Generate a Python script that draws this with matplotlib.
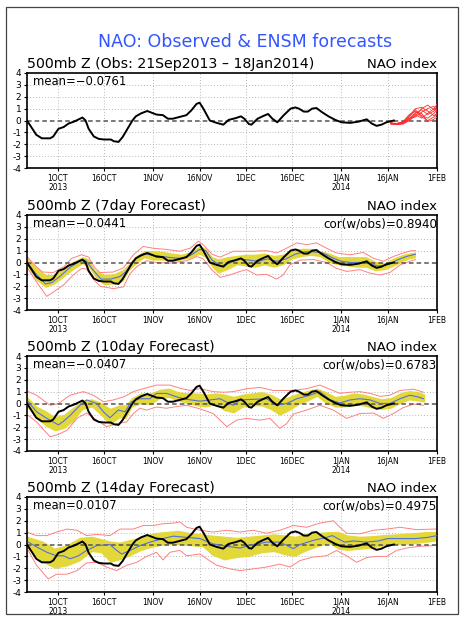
import numpy as np
import pandas as pd
import matplotlib
matplotlib.use("Agg")
import matplotlib.pyplot as plt
from matplotlib.patches import Rectangle

plt.rcParams["axes.unicode_minus"] = False

START = pd.Timestamp("2013-09-21")
END = pd.Timestamp("2014-02-01")

TICK_DATES = ["2013-10-01", "2013-10-16", "2013-11-01", "2013-11-16", "2013-12-01",
              "2013-12-16", "2014-01-01", "2014-01-16", "2014-02-01"]
TICK_LABELS = ["1OCT\n2013", "16OCT", "1NOV", "16NOV", "1DEC", "16DEC", "1JAN\n2014", "16JAN", "1FEB"]

# observed NAO index (days after 21 Sep 2013)
OBS_DAY = [0, 1.5, 3, 4.8, 7.5, 8.5, 10.2, 11.9, 13.5, 15.2, 16.8, 18, 19, 20, 21.7, 23.3, 25, 27.2, 28.2,
           29.7, 31, 32.6, 34.2, 35.3, 37, 39, 40, 42, 44.1, 45.7, 47.3, 49.5, 51.7, 53.3, 55, 56, 57.2,
           59.3, 61.5, 63.7, 65.4, 67.7, 69.4, 70.5, 72, 72.8, 74.8, 76.4, 78.2, 79.6, 81.2, 83.3, 85.5,
           87.1, 88.2, 89.8, 91.1, 92.5, 93.9, 95.7, 97.8, 100, 102, 104.8, 107.5, 110.2, 111.8, 113.4,
           115, 116.6, 119]
OBS = [0.0, -0.6, -1.2, -1.5, -1.5, -1.35, -0.7, -0.55, -0.25, -0.1, 0.1, 0.25, 0.0, -0.7, -1.35,
       -1.55, -1.6, -1.6, -1.75, -1.8, -1.4, -0.7, 0.0, 0.35, 0.6, 0.8, 0.7, 0.5, 0.45, 0.15, 0.15, 0.3,
       0.45, 0.85, 1.4, 1.5, 1.0, 0.0, -0.2, -0.35, 0.05, 0.2, 0.35, 0.15, -0.3, -0.35, 0.15, 0.35, 0.55,
       0.15, -0.15, 0.45, 1.0, 1.1, 1.0, 0.75, 0.75, 1.0, 1.05, 0.7, 0.35, 0.05, -0.15, -0.2, -0.1, 0.1,
       -0.25, -0.45, -0.35, -0.15, 0.0]

# ensemble members (top panel, red)
ENS_DAY = [118, 120, 122, 124, 126, 128, 130, 132, 133]
ENS_A = [-0.2, -0.3, -0.2, 0.1, 0.6, 0.9, 0.5, 0.8, 1.1]
ENS_B = [-0.25, -0.35, -0.15, 0.3, 0.9, 0.4, 0.2, 0.6, 0.9]
ENS_C = [-0.2, -0.3, -0.25, 0.0, 0.4, 1.0, 1.3, 0.9, 1.4]
ENS_D = [-0.3, -0.25, -0.1, 0.5, 0.8, 0.3, 0.0, 0.3, 0.5]
ENS_E = [-0.2, -0.35, -0.2, 0.2, 0.3, 0.7, 1.0, 1.2, 0.7]
ENS_F = [-0.25, -0.3, -0.2, 0.15, 0.7, 0.6, -0.1, 0.1, 0.3]
ENS_G = [-0.3, -0.35, -0.3, 0.0, 0.5, 0.2, 0.6, 1.0, 0.9]
ENS_H = [-0.2, -0.25, -0.1, 0.4, 1.0, 1.1, 0.8, 0.4, 0.6]

# 7-day forecast
F7_MEAN_DAY = [0, 3, 6, 8, 11, 14, 17, 19, 21, 24, 27, 30, 32, 34, 36, 38, 41, 44, 47, 50, 53, 56, 58, 60,
               63, 66, 69, 72, 75, 78, 81, 84, 87, 90, 93, 96, 99, 102, 105, 108, 111, 114, 117, 120, 123, 126]
F7_MEAN = [0.0, -1.0, -1.8, -1.7, -1.1, -0.4, 0.1, 0.2, -0.5, -1.4, -1.4, -1.2, -0.8, -0.1, 0.5, 0.75, 0.6,
           0.5, 0.4, 0.35, 0.6, 1.1, 1.0, 0.2, -0.3, 0.0, 0.3, 0.2, 0.1, 0.3, 0.1, 0.3, 0.7, 0.9, 0.9, 0.8,
           0.4, 0.1, 0.0, 0.0, -0.1, -0.3, -0.2, 0.2, 0.5, 0.7]
F7_BAND_DAY = [0, 3, 6, 9, 12, 15, 18, 20, 22, 25, 28, 31, 33, 35, 38, 41, 44, 47, 50, 53, 56, 58, 60, 62,
               65, 68, 71, 74, 77, 80, 83, 86, 89, 92, 95, 98, 101, 104, 107, 110, 113, 116, 119, 122, 124, 126]
F7_HI = [0.4, -0.4, -1.0, -1.0, -0.4, 0.1, 0.5, 0.3, -0.6, -1.0, -0.95, -0.6, -0.1, 0.5, 1.0, 1.0, 0.95,
         0.8, 0.7, 0.9, 1.4, 1.2, 0.5, 0.3, 0.5, 0.6, 0.7, 0.7, 0.8, 0.6, 0.7, 1.0, 1.2, 1.2, 1.0, 0.8, 0.5,
         0.5, 0.5, 0.5, 0.1, 0.0, 0.4, 0.7, 0.8, 0.9]
F7_LO = [-0.3, -1.5, -2.1, -1.8, -1.2, -0.6, -0.1, -0.4, -1.2, -1.9, -1.8, -1.6, -0.7, -0.2, 0.4, 0.2, 0.2,
         0.1, 0.2, 0.4, 0.7, 0.4, -0.4, -0.9, -0.6, -0.2, -0.3, -0.4, -0.2, -0.4, -0.2, 0.3, 0.5, 0.6, 0.5,
         0.0, -0.2, -0.3, -0.4, -0.4, -0.7, -0.6, -0.3, 0.1, 0.3, 0.4]
F7_MAX_DAY = [0, 3, 5, 8.5, 12, 14.5, 17.7, 20, 22, 23.7, 28, 31.3, 34.5, 37.7, 41, 45.3, 49.6, 52.9, 55.6,
              57.2, 60, 62.6, 67, 73.4, 77.7, 81, 84.2, 87.5, 90.7, 93.9, 97.2, 100.4, 104.8, 109.1, 112.4,
              115.6, 118.8, 122, 124.8, 126]
F7_MAX = [0.5, -0.35, -0.8, -0.85, -0.35, 0.35, 0.65, 0.45, -0.45, -0.85, -0.8, -0.45, 0.65, 1.35, 1.2,
          1.1, 0.95, 1.2, 1.8, 1.5, 0.7, 0.45, 0.95, 0.95, 1.0, 0.8, 1.2, 1.65, 1.5, 1.65, 1.2, 0.8, 0.65,
          0.85, 0.35, 0.1, 0.5, 0.8, 1.0, 1.0]
F7_MIN_DAY = [0, 3, 6.4, 8.5, 11.8, 15, 17.7, 19.3, 21.5, 23.7, 28, 31.3, 33.4, 35.6, 38.8, 42, 46.4, 51.8,
              55, 57.2, 59.9, 62.6, 65.8, 69.1, 71.2, 74.5, 77.7, 81, 83.1, 85.3, 88.6, 92.9, 97.2, 100.4,
              103.7, 108, 111.3, 114.5, 117.7, 121, 124.2, 126]
F7_MIN = [-0.4, -1.6, -2.85, -2.5, -1.9, -1.05, -0.5, -0.55, -1.4, -2.0, -2.2, -2.05, -0.95, -0.35, 0.15,
          0.0, -0.05, 0.15, 0.5, 0.3, -0.6, -1.25, -1.05, -0.75, -0.6, -1.05, -1.0, -1.4, -1.05, -0.2, 0.2,
          0.25, 0.0, -0.5, -0.75, -0.6, -0.9, -1.05, -0.85, -0.2, 0.1, 0.25]

# 10-day forecast
F10_MEAN_DAY = [0.4, 3.1, 6.4, 10.2, 11.8, 14, 17.2, 19.3, 22.6, 24.8, 26.9, 29.6, 31.8, 33.9, 36.6, 39.9,
                42, 45.3, 48.6, 51.8, 56.1, 59.4, 62.6, 66.9, 69.1, 73.4, 77.7, 81, 84.2, 87.5, 91.8, 95,
                98.3, 101.5, 104.8, 108, 111.3, 114.5, 117.7, 121, 124.2, 126.9, 128.6]
F10_MEAN = [0.15, -0.7, -1.25, -1.8, -1.5, -1.0, -0.15, 0.3, 0.0, -0.7, -1.2, -0.55, -0.7, 0.15, 0.4, 0.4,
            0.85, 0.85, 0.55, 0.35, 0.2, 0.3, 0.4, -0.15, 0.3, 0.35, 0.4, -0.15, 0.0, 0.4, 0.7, 1.0, 0.3,
            0.05, 0.3, 0.4, 0.3, 0.0, 0.0, 0.4, 0.7, 0.55, 0.4]
F10_BAND_DAY = [0, 3, 6, 9, 12, 15, 18, 21, 24, 27, 30, 32, 34, 37, 40, 43, 46, 49, 52, 55, 58, 61, 64, 67,
                70, 73, 76, 79, 82, 85, 88, 91, 94, 97, 100, 103, 106, 109, 112, 115, 118, 121, 124, 127, 129]
F10_HI = [0.6, -0.2, -0.6, -1.1, -0.9, -0.3, 0.3, 0.4, 0.1, -0.4, -0.1, -0.1, 0.5, 0.9, 0.9, 1.2, 1.3, 1.0,
          0.9, 0.9, 0.8, 0.9, 0.8, 0.6, 0.8, 0.9, 1.0, 0.8, 0.4, 0.6, 0.9, 1.1, 1.3, 1.0, 0.6, 0.7, 0.9,
          0.8, 0.6, 0.4, 0.5, 0.9, 1.1, 1.0, 0.8]
F10_LO = [-0.3, -1.2, -1.9, -2.3, -2.1, -1.5, -0.5, -0.3, -1.0, -1.8, -1.2, -1.3, -0.3, 0.0, -0.1, 0.4, 0.5,
          0.2, 0.0, -0.2, -0.3, -0.1, -0.6, -0.8, -0.3, -0.2, -0.2, -0.5, -1.0, -0.6, -0.1, 0.2, 0.6, 0.0,
          -0.3, -0.3, -0.1, -0.2, -0.4, -0.5, -0.4, 0.0, 0.3, 0.2, 0.1]
F10_MAX_DAY = [0.4, 3.1, 7.5, 10.2, 14, 18.3, 21.5, 24.8, 28, 31.3, 34.5, 37.7, 42, 46.4, 50.1, 52.9, 56.1,
               60.4, 63.7, 66.9, 71.2, 75.6, 79.9, 83.1, 86.4, 90.7, 95, 98.3, 101.5, 104.8, 108, 111.3,
               114.5, 117.7, 121, 125.4, 128.6]
F10_MAX = [1.0, 0.7, -0.15, 0.0, 0.7, 1.0, 0.7, 0.15, 0.3, 0.55, 1.0, 1.25, 1.55, 1.55, 1.25, 1.1, 1.25, 1.0,
           0.95, 1.0, 1.25, 1.35, 1.1, 1.1, 1.1, 1.25, 1.55, 1.2, 0.85, 0.95, 1.0, 0.85, 0.6, 0.7, 1.1,
           1.2, 0.95]
F10_MIN_DAY = [0.4, 3.1, 7.5, 10.2, 13, 16.2, 19.3, 22.6, 25.8, 29.1, 32.3, 34.5, 36.6, 38.8, 42, 45.3,
               47.5, 51.8, 56.1, 60.4, 64.8, 68, 71.2, 75.6, 78.8, 82, 84.2, 86.4, 90.7, 95, 99.4, 103.7,
               108, 112.4, 115.6, 118.8, 122, 125.4, 128.6]
F10_MIN = [-1.0, -1.55, -2.8, -2.6, -2.25, -1.25, -0.8, -1.4, -1.95, -1.7, -1.55, -0.85, -0.4, -0.55, -0.3,
           -0.4, -0.3, -0.15, -0.45, -0.85, -1.95, -1.4, -1.25, -1.4, -1.25, -2.1, -1.7, -0.9, -0.55, -0.15,
           -0.55, -1.25, -0.85, -0.8, -1.25, -0.85, -0.35, -0.05, -0.15]

# 14-day forecast
F14_MEAN_DAY = [0.4, 3.1, 6.4, 9.6, 11.8, 14, 16.7, 19.3, 22.6, 26.9, 29.1, 30.7, 33.4, 36.6, 39.9, 44.1,
                47.4, 51.8, 56.1, 60.4, 64.8, 69.1, 73.4, 77.7, 82, 86.4, 88.6, 92.9, 97.2, 99, 103, 106,
                110, 114, 117, 121, 126, 130, 133]
F14_MEAN = [0.2, -0.2, -0.65, -0.95, -0.95, -1.2, -0.95, -0.5, -0.1, 0.0, -0.5, -0.8, -0.5, -0.1, 0.2, 0.5,
            0.7, 0.6, 0.5, 0.05, -0.15, -0.3, 0.0, 0.2, 0.2, -0.35, 0.0, 0.35, 0.6, 0.75, 0.2, 0.3, 0.2,
            0.3, 0.5, 0.5, 0.5, 0.6, 0.75]
F14_BAND_DAY = [0, 5, 9, 13, 17, 21, 24, 27, 30, 33, 37, 41, 45, 49, 53, 57, 60, 64, 68, 72, 76, 80, 84, 87,
                90, 94, 98, 101, 104, 108, 112, 116, 120, 125, 130, 133]
F14_HI = [0.7, 0.3, -0.3, 0.0, 0.6, 0.7, 0.5, 0.3, 0.2, 0.4, 0.6, 1.0, 1.1, 1.2, 1.0, 0.9, 0.8, 0.7, 0.6,
          0.7, 0.8, 0.9, 0.8, 0.7, 0.9, 1.0, 1.1, 1.1, 0.8, 0.7, 0.75, 0.85, 0.9, 1.0, 1.1, 1.1]
F14_LO = [-0.3, -1.5, -2.0, -1.8, -1.4, -0.6, -0.7, -1.5, -1.3, -1.0, -0.5, -0.2, 0.0, 0.0, -0.1, -0.2, -0.9,
          -1.3, -1.1, -1.0, -0.7, -0.6, -0.9, -1.0, -0.6, -0.2, 0.1, -0.4, -0.5, -0.4, -0.3, -0.1, 0.0,
          0.05, 0.2, 0.3]
F14_MAX_DAY = [0.4, 3.1, 6.4, 9.6, 13, 16.2, 19.3, 22.6, 26.9, 30.2, 34.5, 37.7, 41, 44.1, 47.4, 49.6, 51.8,
               56.1, 60.4, 64.8, 69.1, 73.4, 77.7, 82, 86.4, 90.7, 95, 99.4, 101.5, 103.7, 108, 112.4, 116.7,
               121, 126.4, 131.8, 133]
F14_MAX = [1.0, 0.75, 0.75, 1.05, 1.3, 1.2, 0.75, 0.85, 0.75, 1.3, 1.3, 1.6, 1.6, 1.75, 1.8, 1.9, 1.45, 1.2,
           1.05, 1.2, 1.05, 1.2, 0.95, 1.2, 1.6, 1.45, 1.8, 2.0, 1.45, 0.95, 0.9, 1.2, 1.3, 1.45, 1.25, 1.3,
           1.3]
F14_MIN_DAY = [0.4, 3.1, 6.9, 9.6, 13, 16.2, 19.3, 22.6, 25.8, 29.1, 32.3, 35.6, 38.8, 42, 44.1, 46.4, 49.6,
               51.8, 56.1, 58.3, 61.5, 65.8, 69.1, 73.4, 77.7, 82, 85.3, 88.6, 92.9, 97.2, 100.4, 103.7, 106.9,
               110.2, 113.4, 116.7, 119.9, 123.1, 127.4, 131.8, 133]
F14_MIN = [-0.5, -1.75, -2.9, -2.5, -2.5, -2.2, -1.55, -1.5, -1.9, -2.2, -1.75, -1.5, -1.0, -0.65, -1.3,
           -0.65, -0.5, -0.95, -0.8, -1.2, -1.75, -2.05, -2.2, -2.05, -1.9, -1.65, -1.9, -1.35, -1.05, -0.95,
           -0.5, -0.95, -1.5, -1.1, -1.0, -1.0, -0.5, -0.3, -0.15, -0.1, -0.05]

SUBTITLES = ["500mb Z (Obs: 21Sep2013 \u2013 18Jan2014)", "500mb Z (7day Forecast)",
             "500mb Z (10day Forecast)", "500mb Z (14day Forecast)"]
MEANS = ["mean=\u2212" + "0.0761", "mean=\u2212" + "0.0441", "mean=\u2212" + "0.0407", "mean=0.0107"]
CORS = [None, "cor(w/obs)=0.8940", "cor(w/obs)=0.6783", "cor(w/obs)=0.4975"]

FORECASTS = [
    None,
    (F7_MEAN_DAY, F7_MEAN, F7_BAND_DAY, F7_HI, F7_LO, F7_MAX_DAY, F7_MAX, F7_MIN_DAY, F7_MIN),
    (F10_MEAN_DAY, F10_MEAN, F10_BAND_DAY, F10_HI, F10_LO, F10_MAX_DAY, F10_MAX, F10_MIN_DAY, F10_MIN),
    (F14_MEAN_DAY, F14_MEAN, F14_BAND_DAY, F14_HI, F14_LO, F14_MAX_DAY, F14_MAX, F14_MIN_DAY, F14_MIN),
]


def to_dates(days):
    return START + pd.to_timedelta(np.asarray(days, dtype=float), unit="D")


W, H = 465, 620
TOPS = [73, 215, 356, 497]
AX_L, AX_R, AX_H = 27, 437, 95

fig = plt.figure(figsize=(W / 100, H / 100), dpi=100)
fig.add_artist(Rectangle((6 / W, 1 - 614 / H), 452 / W, 607 / H, transform=fig.transFigure,
                         fill=False, ec="#444444", lw=0.9))
fig.text(0.528, 1 - 42 / H, "NAO: Observed & ENSM forecasts", color="#3355ff",
         fontsize=12.5, ha="center", va="center")

tick_dates = pd.to_datetime(TICK_DATES)
for i, top in enumerate(TOPS):
    ax = fig.add_axes([AX_L / W, 1 - (top + AX_H) / H, (AX_R - AX_L) / W, AX_H / H])
    ax.set_xlim(START, END)
    ax.set_ylim(-4, 4)
    ax.set_yticks(range(-4, 5))
    ax.set_yticklabels([str(v) for v in range(-4, 5)])
    ax.set_xticks(tick_dates)
    ax.set_xticklabels(TICK_LABELS, fontsize=5.5, linespacing=1.05)
    ax.tick_params(axis="y", direction="out", length=2.5, width=0.8, pad=1.5, labelsize=6.5)
    ax.tick_params(axis="x", direction="out", length=2.5, width=0.8, pad=1.5)
    for s in ax.spines.values():
        s.set_linewidth(1.2)
    for y in range(-3, 4):
        if y != 0:
            ax.axhline(y, color="#a0a0a0", lw=0.6, ls=(0, (1, 2.5)), zorder=0)
    for d in tick_dates[:-1]:
        ax.axvline(d, color="#a0a0a0", lw=0.6, ls=(0, (1, 2.5)), zorder=0)
    ax.axhline(0, color="#555555", lw=1.1, ls=(0, (3, 2)), zorder=2.5)

    fc = FORECASTS[i]
    if fc is None:
        for m in (ENS_A, ENS_B, ENS_C, ENS_D, ENS_E, ENS_F, ENS_G, ENS_H):
            ax.plot(to_dates(ENS_DAY), m, color="#ff2a2a", lw=0.6, zorder=3)
    else:
        md, mv, bd, bh, bl, xd, xv, nd, nv = fc
        ax.fill_between(to_dates(bd), bl, bh, color="#e2d83a", lw=0, zorder=1)
        ax.plot(to_dates(xd), xv, color="#ff8080", lw=0.7, zorder=2)
        ax.plot(to_dates(nd), nv, color="#ff8080", lw=0.7, zorder=2)
        ax.plot(to_dates(md), mv, color="#5570d8", lw=0.8, zorder=3)
    ax.plot(to_dates(OBS_DAY), OBS, color="black", lw=1.4, zorder=4)

    ax.text(0.015, 0.975, MEANS[i], transform=ax.transAxes, ha="left", va="top", fontsize=8.4)
    if CORS[i]:
        ax.text(1.0, 0.975, CORS[i], transform=ax.transAxes, ha="right", va="top", fontsize=8.6)
    fig.text(AX_L / W, 1 - (top - 5) / H, SUBTITLES[i], ha="left", va="baseline", fontsize=10.2)
    fig.text(AX_R / W, 1 - (top - 5) / H, "NAO index", ha="right", va="baseline", fontsize=9.5)

fig.savefig("out.png", dpi=100)
